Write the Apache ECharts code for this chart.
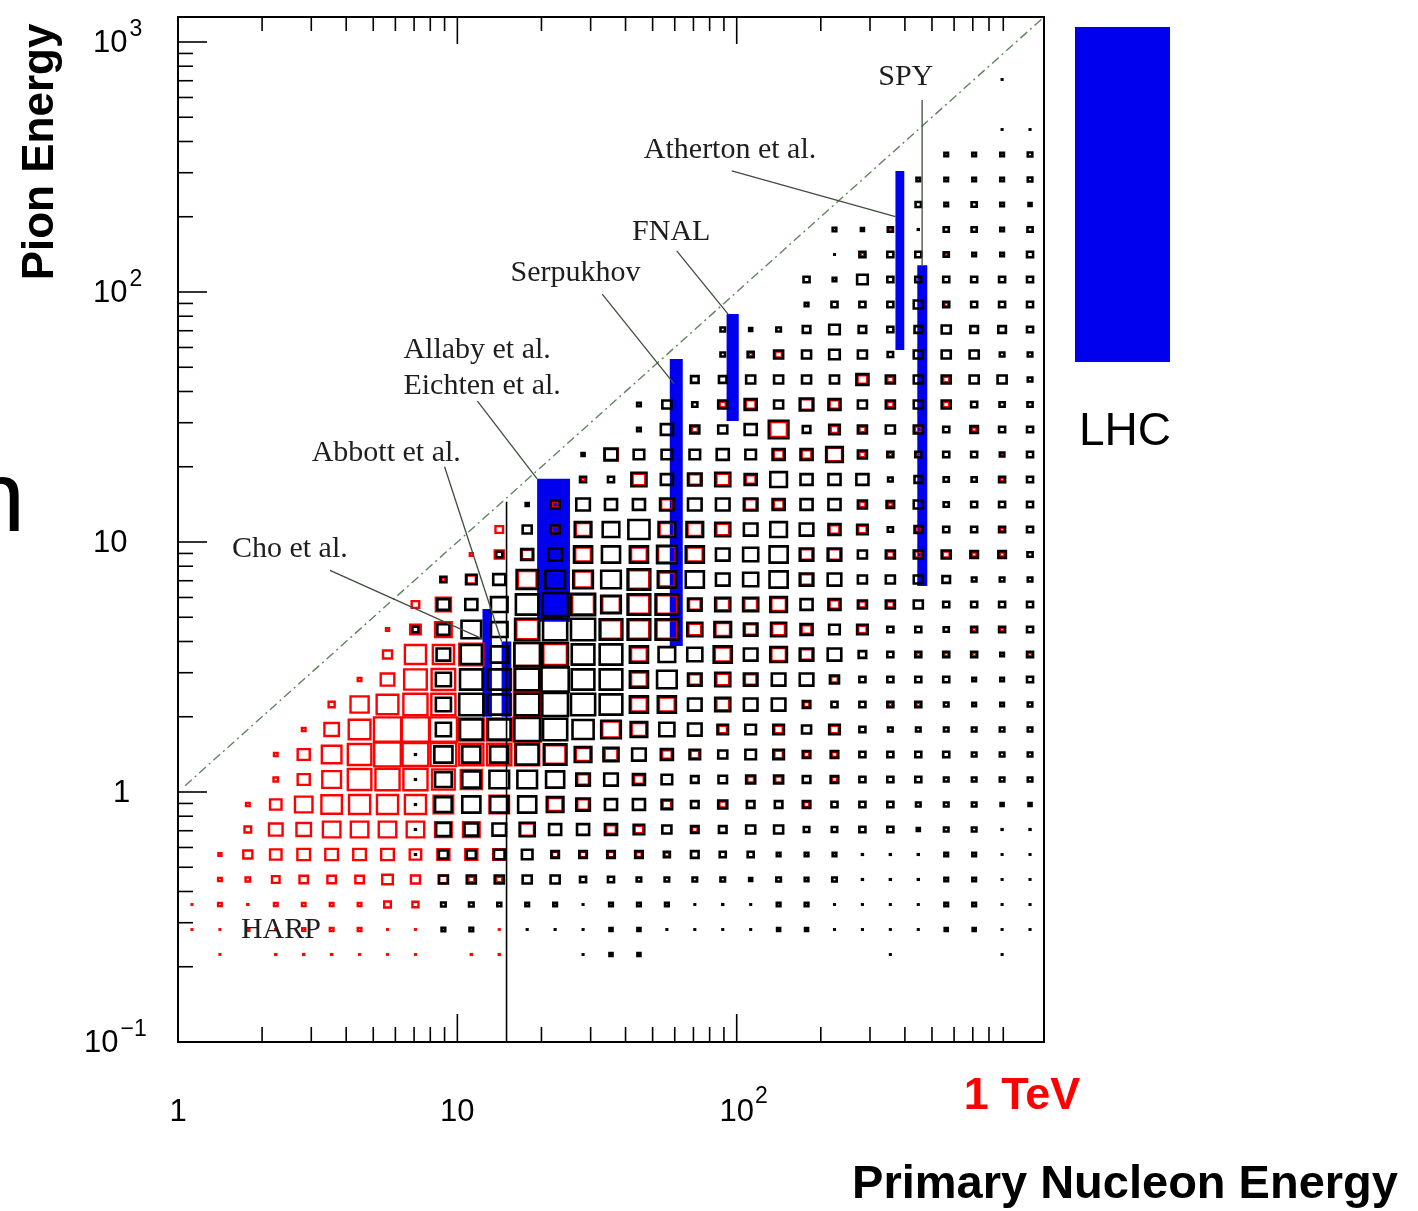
<!DOCTYPE html>
<html>
<head>
<meta charset="utf-8">
<script src="https://cdn.jsdelivr.net/npm/echarts/dist/echarts.min.js"></script>
<style>
  html, body { margin: 0; padding: 0; background: #ffffff; }
  #chart { width: 1418px; height: 1211px; }
</style>
</head>
<body>
<div id="chart"></div>
<script>
// ---- histogram binning (0.1 decade bins on both log axes) ----
const BIN_LOG = 0.1;
const X_LOG0 = 0;    // first x bin starts at 1 GeV
const Y_LOG0 = -1;   // first y bin starts at 0.1 GeV
const ROW_TOP = 38;  // bin row of the first line in each matrix (rows go downwards)

// Box size per bin (percent of bin), black histogram, columns = primary energy bins
const blackBoxSize = [
  [0,0,0,0,0,0,0,0,0,0, 0,0,0,0,0,0,0,0,0,0, 0,0,0,0,0,0,0,0,0,7, 0],
  [0,0,0,0,0,0,0,0,0,0, 0,0,0,0,0,0,0,0,0,0, 0,0,0,0,0,0,0,0,0,0, 0],
  [0,0,0,0,0,0,0,0,0,0, 0,0,0,0,0,0,0,0,0,0, 0,0,0,0,0,0,0,0,0,7, 7],
  [0,0,0,0,0,0,0,0,0,0, 0,0,0,0,0,0,0,0,0,0, 0,0,0,0,0,0,0,12,12,12, 15],
  [0,0,0,0,0,0,0,0,0,0, 0,0,0,0,0,0,0,0,0,0, 0,0,0,0,0,0,12,12,12,12, 15],
  [0,0,0,0,0,0,0,0,0,0, 0,0,0,0,0,0,0,0,0,0, 0,0,0,0,0,0,18,12,17,12, 10],
  [0,0,0,0,0,0,0,0,0,0, 0,0,0,0,0,0,0,0,0,0, 0,0,0,12,10,17,8,17,17,12, 17],
  [0,0,0,0,0,0,0,0,0,0, 0,0,0,0,0,0,0,0,0,0, 0,0,0,7,20,20,20,17,12,12, 20],
  [0,0,0,0,0,0,0,0,0,0, 0,0,0,0,0,0,0,0,0,0, 0,0,20,12,35,20,20,20,20,20, 20],
  [0,0,0,0,0,0,0,0,0,0, 0,0,0,0,0,0,0,0,0,0, 0,0,12,20,20,20,30,20,20,20, 20],
  [0,0,0,0,0,0,0,0,0,0, 0,0,0,0,0,0,0,0,0,15, 10,15,25,35,25,20,25,30,25,25, 20],
  [0,0,0,0,0,0,0,0,0,0, 0,0,0,0,0,0,0,0,0,15, 20,30,30,35,30,18,30,30,30,15, 15],
  [0,0,0,0,0,0,0,0,0,0, 0,0,0,0,0,0,0,0,25,25, 30,30,30,30,40,30,30,30,30,30, 15],
  [0,0,0,0,0,0,0,0,0,0, 0,0,0,0,0,0,12,30,17,30, 40,30,45,40,30,30,30,30,20,17, 17],
  [0,0,0,0,0,0,0,0,0,0, 0,0,0,0,0,0,12,40,30,30, 40,65,25,35,30,30,30,20,25,20, 20],
  [0,0,0,0,0,0,0,0,0,0, 0,0,0,0,10,42,35,35,35,40, 35,40,40,55,30,20,20,20,20,15, 20],
  [0,0,0,0,0,0,0,0,0,0, 0,0,0,0,20,20,50,40,45,50, 40,55,40,40,40,15,25,17,17,20, 20],
  [0,0,0,0,0,0,0,0,0,0, 0,0,10,30,45,40,40,45,45,45, 45,40,40,40,30,25,30,17,20,20, 20],
  [0,0,0,0,0,0,0,0,0,0, 0,0,30,30,55,55,70,55,55,50, 45,55,45,40,35,17,25,20,20,20, 20],
  [0,0,0,0,0,0,0,0,0,0, 0,20,40,45,60,60,60,65,60,45, 50,60,45,45,30,30,30,30,25,25, 17],
  [0,0,0,0,0,0,0,0,0,20, 35,40,70,65,65,65,75,60,60,45, 50,60,45,45,30,30,30,25,15,15, 15],
  [0,0,0,0,0,0,0,0,0,40, 40,55,75,85,80,65,75,75,45,50, 50,55,40,40,30,30,30,20,20,20, 20],
  [0,0,0,0,0,0,0,0,20,40, 65,55,80,80,80,75,75,75,50,55, 45,50,40,35,35,20,20,17,20,20, 20],
  [0,0,0,0,0,0,0,0,0,45, 70,60,85,85,75,75,60,55,50,60, 45,55,45,45,25,20,20,20,20,12, 20],
  [0,0,0,0,0,0,0,0,0,50, 75,75,80,90,75,75,60,65,45,50, 45,45,45,30,20,20,20,20,12,12, 20],
  [0,0,0,0,0,0,0,0,0,50, 80,75,80,85,80,75,60,60,45,50, 45,45,25,20,20,20,20,15,12,12, 15],
  [0,0,0,0,0,0,0,0,0,50, 75,75,85,80,70,65,55,50,45,35, 35,35,30,35,20,15,15,15,15,15, 15],
  [0,0,0,0,0,0,0,0,8,60, 60,60,75,75,55,50,45,40,35,30, 35,35,25,25,20,20,20,20,15,15, 15],
  [0,0,0,0,0,0,0,0,8,55, 60,65,65,60,45,45,40,35,25,28, 30,30,25,25,20,20,20,15,15,15, 15],
  [0,0,0,0,0,0,0,0,8,55, 60,60,60,55,45,40,40,35,25,30, 25,25,25,20,20,20,15,15,15,10, 10],
  [0,0,0,0,0,0,0,0,8,48, 45,45,50,40,40,40,35,30,25,25, 30,30,18,18,20,20,10,15,15,8, 8],
  [0,0,0,0,0,0,0,0,8,30, 30,35,35,25,25,25,25,20,25,20, 20,12,12,12,8,8,8,12,12,7, 7],
  [0,0,0,0,0,0,0,0,0,30, 30,30,30,30,20,20,15,15,15,15, 10,15,12,15,8,8,8,12,12,7, 7],
  [0,0,0,0,0,0,0,0,0,15, 15,13,12,12,7,12,12,12,7,8, 7,12,12,7,7,7,7,12,12,7, 7],
  [0,0,0,0,0,0,0,0,0,12, 12,0,7,7,7,10,10,7,7,7, 7,10,10,7,7,7,7,10,10,7, 7],
  [0,0,0,0,0,0,0,0,0,0, 0,0,0,0,7,10,10,0,0,0, 0,0,0,0,0,7,0,0,0,7, 0]
];

// Box size per bin (percent of bin), red histogram
const redBoxSize = [
  [0,0,0,0,0,0,0,0,0,0, 0,0,0,0,0,0,0,0,0,0, 0,0,0,0,0,0,0,0,0,0, 0],
  [0,0,0,0,0,0,0,0,0,0, 0,0,0,0,0,0,0,0,0,0, 0,0,0,0,0,0,0,0,0,0, 0],
  [0,0,0,0,0,0,0,0,0,0, 0,0,0,0,0,0,0,0,0,0, 0,0,0,0,0,0,0,0,0,0, 0],
  [0,0,0,0,0,0,0,0,0,0, 0,0,0,0,0,0,0,0,0,0, 0,0,0,0,0,0,0,0,0,0, 0],
  [0,0,0,0,0,0,0,0,0,0, 0,0,0,0,0,0,0,0,0,0, 0,0,0,0,0,0,0,0,0,0, 0],
  [0,0,0,0,0,0,0,0,0,0, 0,0,0,0,0,0,0,0,0,0, 0,0,0,0,0,0,0,0,0,0, 0],
  [0,0,0,0,0,0,0,0,0,0, 0,0,0,0,0,0,0,0,0,0, 0,0,0,0,0,10,0,0,0,0, 0],
  [0,0,0,0,0,0,0,0,0,0, 0,0,0,0,0,0,0,0,0,0, 0,0,0,0,12,0,0,10,0,0, 0],
  [0,0,0,0,0,0,0,0,0,0, 0,0,0,0,0,0,0,0,0,0, 0,0,0,0,0,0,0,0,0,0, 0],
  [0,0,0,0,0,0,0,0,0,0, 0,0,0,0,0,0,0,0,0,0, 0,0,0,0,0,0,0,12,0,0, 0],
  [0,0,0,0,0,0,0,0,0,0, 0,0,0,0,0,0,0,0,0,0, 0,0,0,0,0,0,0,0,0,0, 0],
  [0,0,0,0,0,0,0,0,0,0, 0,0,0,0,0,0,0,0,0,0, 12,22,0,0,0,0,0,0,0,0, 0],
  [0,0,0,0,0,0,0,0,0,0, 0,0,0,0,0,0,0,0,0,0, 0,0,0,0,32,20,0,20,0,0, 0],
  [0,0,0,0,0,0,0,0,0,0, 0,0,0,0,0,0,0,0,0,20, 32,0,38,32,0,20,0,20,0,0, 0],
  [0,0,0,0,0,0,0,0,0,0, 0,0,0,0,0,0,0,0,20,0, 0,55,0,25,20,0,22,0,15,0, 0],
  [0,0,0,0,0,0,0,0,0,0, 0,0,0,0,0,45,0,0,0,0, 0,32,32,50,20,12,12,0,0,8, 0],
  [0,0,0,0,0,0,0,0,0,0, 0,0,0,0,12,0,42,0,38,42, 32,0,0,0,0,0,0,0,0,12, 0],
  [0,0,0,0,0,0,0,0,0,0, 0,0,0,22,0,0,0,38,0,0, 38,32,0,0,20,15,0,0,0,0, 0],
  [0,0,0,0,0,0,0,0,0,0, 0,25,0,25,48,0,0,48,48,42, 0,0,0,32,28,0,18,0,0,12, 0],
  [0,0,0,0,0,0,0,0,0,0, 10,30,35,0,52,0,52,58,52,0, 0,0,38,38,0,22,22,22,15,15, 0],
  [0,0,0,0,0,0,0,0,0,12, 30,0,62,0,58,0,68,52,0,0, 0,0,38,0,0,0,0,0,0,0, 0],
  [0,0,0,0,0,0,0,0,25,50, 0,0,0,0,72,58,68,68,38,42, 42,48,0,32,22,22,0,0,0,0, 0],
  [0,0,0,0,0,0,0,10,35,55, 0,0,72,0,0,68,68,68,42,48, 38,42,32,0,28,0,0,0,12,12, 0],
  [0,0,0,0,0,0,0,30,70,70, 80,0,85,78,0,0,52,0,0,52, 0,48,38,0,0,0,12,12,12,0, 12],
  [0,0,0,0,0,0,12,45,75,78, 0,0,88,0,0,0,52,0,38,42, 38,0,0,22,0,0,0,0,0,0, 0],
  [0,0,0,0,0,20,60,72,80,80, 0,0,88,0,0,0,52,52,0,42, 0,0,18,0,0,12,12,0,0,0, 0],
  [0,0,0,0,12,48,72,90,90,90, 82,82,90,0,0,58,48,0,0,28, 0,28,0,28,0,0,0,0,0,0, 0],
  [0,0,0,12,40,65,78,88,85,85, 80,80,80,68,48,42,0,32,28,0, 0,28,18,18,0,0,0,0,0,0, 0],
  [0,0,0,15,40,62,78,80,80,75, 70,0,0,0,38,0,32,0,0,0, 22,22,0,18,0,0,0,0,0,0, 0],
  [0,0,12,38,58,68,70,70,70,65, 0,65,0,48,38,0,0,28,0,22, 0,0,18,0,0,0,0,0,0,0, 0],
  [0,0,22,45,48,58,58,58,58,55, 55,0,45,0,0,32,28,0,18,0, 0,0,0,0,0,0,0,0,0,0, 0],
  [0,10,30,38,42,42,42,42,38,40, 40,40,0,20,20,20,18,15,0,0, 0,0,0,0,0,0,0,0,0,0, 0],
  [0,12,15,25,28,28,28,35,30,28, 20,20,0,0,0,0,0,0,0,0, 0,0,0,0,0,0,0,0,0,0, 0],
  [7,12,8,12,12,12,12,22,20,0, 0,0,0,0,0,0,0,0,0,0, 0,0,0,0,0,0,0,0,0,0, 0],
  [7,7,10,8,10,12,12,7,7,0, 0,7,0,0,0,0,0,0,0,0, 0,0,0,0,0,0,0,0,0,0, 0],
  [0,7,0,8,8,8,7,7,7,0, 8,8,0,0,0,0,0,0,0,0, 0,0,0,0,0,0,0,0,0,0, 0]
];

// Measured regions of the experiments (primary energy range, pion energy range), GeV
const expNames    = ['Cho et al.', 'Abbott et al.', 'Allaby et al. / Eichten et al.', 'Serpukhov', 'FNAL', 'Atherton et al.', 'SPY'];
const expBeamMin  = [12.3, 14.4, 19.3, 57.6, 92, 370, 443];
const expBeamMax  = [13.3, 15.6, 25.3, 64.1, 101.7, 398, 481];
const expPionMin  = [2.0, 2.0, 4.8, 3.84, 30.5, 58.6, 6.67];
const expPionMax  = [5.4, 4.0, 17.9, 54, 81.7, 305, 128];

// Annotation text anchors (left edge, vertical centre) in data units
const labelTexts = ['SPY', 'Atherton et al.', 'FNAL', 'Serpukhov', 'Allaby et al.', 'Eichten et al.', 'Abbott et al.', 'Cho et al.', 'HARP'];
const labelAtX   = [321, 46.5, 42.2, 15.5, 6.41, 6.41, 3.01, 1.56, 1.68];
const labelAtY   = [724, 370, 174, 119, 58.6, 42.1, 22.7, 9.38, 0.28];

// Leader lines from labels to the experiment regions
const leaderFrom = [[461, 586], [96, 305], [61, 146], [33, 98], [11.8, 36.6], [9.0, 20], [3.5, 7.7]];
const leaderTo   = [[461, 128], [370, 200], [93.6, 81], [59.6, 43], [19.3, 17.9], [14.4, 4.0], [12.3, 4.1]];

// Primary energy boundary line (black vertical)
const beamCut = 15, beamCutTop = 14.5;

// Axis ticks and labels
const xMinorTicks = [2,3,4,5,6,7,8,9, 20,30,40,50,60,70,80,90, 200,300,400,500,600,700,800,900];
const xMajorTicks = [10, 100];
const yMinorTicks = [0.2,0.3,0.4,0.5,0.6,0.7,0.8,0.9, 2,3,4,5,6,7,8,9, 20,30,40,50,60,70,80,90, 200,300,400,500,600,700,800,900];
const yMajorTicks = [1, 10, 100, 1000];
const xTickLabels = [1, 10, 100];
const yTickLabels = [0.1, 1, 10, 100, 1000];

const X_MIN = 1, X_MAX = Math.pow(10, 3.1);
const Y_MIN = 0.1, Y_MAX = Math.pow(10, 3.1);
const BLUE = '#0000ee';
const BOX_SCALE = 1.08;   // box side relative to its bin at 100 %
const SERIF = '"Liberation Serif", "Times New Roman", serif';
const SANS = '"Liberation Sans", Arial, Helvetica, sans-serif';

function cells(matrix) {
  const out = [];
  matrix.forEach((row, k) => {
    const j = ROW_TOP - k;
    row.forEach((s, i) => {
      if (s > 0) {
        out.push([Math.pow(10, X_LOG0 + (i + 0.5) * BIN_LOG), Math.pow(10, Y_LOG0 + (j + 0.5) * BIN_LOG), s, i, j]);
      }
    });
  });
  return out;
}

function boxRenderer(color, lw) {
  return function (params, api) {
    const i = api.value(3), j = api.value(4), s = BOX_SCALE * api.value(2) / 100;
    const a = api.coord([Math.pow(10, X_LOG0 + i * BIN_LOG), Math.pow(10, Y_LOG0 + j * BIN_LOG)]);
    const b = api.coord([Math.pow(10, X_LOG0 + (i + 1) * BIN_LOG), Math.pow(10, Y_LOG0 + (j + 1) * BIN_LOG)]);
    const c = api.coord([api.value(0), api.value(1)]);
    const w = s * (b[0] - a[0]), h = s * (a[1] - b[1]);
    if (w < 3) {
      return { type: 'rect', shape: { x: c[0] - (w + 1) / 2, y: c[1] - (h + 1) / 2, width: w + 1, height: h + 1 },
               style: { fill: color } };
    }
    return { type: 'rect', shape: { x: c[0] - w / 2, y: c[1] - h / 2, width: w, height: h },
             style: { fill: 'none', stroke: color, lineWidth: lw } };
  };
}

function tickData(list, major, onX) {
  return list.map(v => onX ? [v, Y_MIN, major] : [X_MIN, v, major]);
}

function tickRenderer(onX) {
  return function (params, api) {
    const cs = params.coordSys;
    const major = api.value(2) === 1;
    const p = api.coord([api.value(0), api.value(1)]);
    const st = { stroke: '#000', lineWidth: 1.6 };
    if (onX) {
      const len = major ? 28 : 15;
      return { type: 'group', children: [
        { type: 'line', shape: { x1: p[0], y1: cs.y + cs.height, x2: p[0], y2: cs.y + cs.height - len }, style: st },
        { type: 'line', shape: { x1: p[0], y1: cs.y, x2: p[0], y2: cs.y + (major ? 27 : 14) }, style: st }
      ] };
    }
    const len = major ? 29 : 15;
    return { type: 'line', shape: { x1: cs.x, y1: p[1], x2: cs.x + len, y2: p[1] }, style: st };
  };
}

// label text pieces for a power of ten
function powerParts(v) {
  const e = Math.round(Math.log10(v));
  if (e === 0) return { e, base: '1', sup: '' };
  if (e === 1) return { e, base: '10', sup: '' };
  return { e, base: '10', sup: e < 0 ? '\u2212' + (-e) : String(e) };
}

const BASE_FONT = '31px ' + SANS;
const SUP_FONT = '23px ' + SANS;
const measureCtx = document.createElement('canvas').getContext('2d');
function textWidth(t, font) { measureCtx.font = font; return measureCtx.measureText(t).width; }

function xLabelRenderer(params, api) {
  const p = api.coord([api.value(0), Y_MIN]);
  const parts = powerParts(api.value(0));
  const y = p[1] + 70;
  const bw = textWidth(parts.base, BASE_FONT);
  const children = [{ type: 'text', x: p[0], y: y, style: { text: parts.base, font: BASE_FONT, fill: '#000', align: 'center', verticalAlign: 'middle' } }];
  if (parts.sup) {
    children.push({ type: 'text', x: p[0] + bw / 2 + 1, y: y - 15, style: { text: parts.sup, font: SUP_FONT, fill: '#000', align: 'left', verticalAlign: 'middle' } });
  }
  return { type: 'group', children };
}

// left edge of the y labels, measured from the frame
const yLabelOffset = { '-1': 94, '0': 65, '1': 85, '2': 85, '3': 85 };
function yLabelRenderer(params, api) {
  const p = api.coord([X_MIN, api.value(1)]);
  const parts = powerParts(api.value(1));
  const x = p[0] - yLabelOffset[String(parts.e)];
  const bw = textWidth(parts.base, BASE_FONT);
  const y = p[1] + 1;
  const children = [{ type: 'text', x: x, y: y, style: { text: parts.base, font: BASE_FONT, fill: '#000', align: 'left', verticalAlign: 'middle' } }];
  if (parts.sup) {
    children.push({ type: 'text', x: x + bw + 2, y: y - 13, style: { text: parts.sup, font: SUP_FONT, fill: '#000', align: 'left', verticalAlign: 'middle' } });
  }
  return { type: 'group', children };
}

const chart = echarts.init(document.getElementById('chart'), null, { renderer: 'canvas' });

const option = {
  backgroundColor: '#ffffff',
  animation: false,
  grid: { left: 178, top: 17, width: 866, height: 1025, show: true, borderColor: '#000', borderWidth: 2, backgroundColor: 'transparent' },
  xAxis: {
    type: 'log', logBase: 10, min: X_MIN, max: X_MAX,
    axisLine: { show: false }, axisTick: { show: false }, axisLabel: { show: false }, splitLine: { show: false }
  },
  yAxis: {
    type: 'log', logBase: 10, min: Y_MIN, max: Y_MAX,
    axisLine: { show: false }, axisTick: { show: false }, axisLabel: { show: false }, splitLine: { show: false }
  },
  series: [
    {
      name: 'experiments', type: 'custom', clip: false, z: 2, silent: true,
      data: expBeamMin.map((v, k) => [v, expBeamMax[k], expPionMin[k], expPionMax[k]]),
      encode: { x: [0, 1], y: [2, 3] },
      renderItem(params, api) {
        const a = api.coord([api.value(0), api.value(2)]);
        const b = api.coord([api.value(1), api.value(3)]);
        return { type: 'rect', shape: { x: a[0], y: b[1], width: b[0] - a[0], height: a[1] - b[1] }, style: { fill: BLUE } };
      }
    },
    {
      name: 'red', type: 'custom', clip: false, z: 3, silent: true,
      data: cells(redBoxSize), encode: { x: 0, y: 1 },
      renderItem: boxRenderer('#ff0000', 2.4)
    },
    {
      name: 'black', type: 'custom', clip: false, z: 4, silent: true,
      data: cells(blackBoxSize), encode: { x: 0, y: 1 },
      renderItem: boxRenderer('#000000', 2.6)
    },
    {
      name: 'kinematic limit', type: 'line', z: 5, silent: true, symbol: 'none',
      data: [[1.06, 1.06], [X_MAX, Y_MAX]],
      lineStyle: { color: '#5f855f', width: 1.4, type: [9, 4, 2, 4] }
    },
    {
      name: 'beam cut', type: 'line', z: 5, silent: true, symbol: 'none',
      data: [[beamCut, Y_MIN], [beamCut, beamCutTop]],
      lineStyle: { color: '#000', width: 1.6 }
    },
    {
      name: 'leaders', type: 'custom', clip: false, z: 6, silent: true,
      data: leaderFrom.map((f, k) => [f[0], f[1], leaderTo[k][0], leaderTo[k][1]]),
      encode: { x: [0, 2], y: [1, 3] },
      renderItem(params, api) {
        const a = api.coord([api.value(0), api.value(1)]);
        const b = api.coord([api.value(2), api.value(3)]);
        return { type: 'line', shape: { x1: a[0], y1: a[1], x2: b[0], y2: b[1] }, style: { stroke: '#3f4d3f', lineWidth: 1.3 } };
      }
    },
    {
      name: 'labels', type: 'custom', clip: false, z: 7, silent: true,
      data: labelAtX.map((x, k) => [x, labelAtY[k]]),
      encode: { x: 0, y: 1 },
      renderItem(params, api) {
        const p = api.coord([api.value(0), api.value(1)]);
        return { type: 'text', x: p[0], y: p[1],
                 style: { text: labelTexts[params.dataIndex], font: '30px ' + SERIF, fill: '#1e1e1e', align: 'left', verticalAlign: 'middle' } };
      }
    },
    { name: 'x minor ticks', type: 'custom', clip: false, z: 8, silent: true, data: tickData(xMinorTicks, 0, true), encode: { x: 0, y: 1 }, renderItem: tickRenderer(true) },
    { name: 'x major ticks', type: 'custom', clip: false, z: 8, silent: true, data: tickData(xMajorTicks, 1, true), encode: { x: 0, y: 1 }, renderItem: tickRenderer(true) },
    { name: 'y minor ticks', type: 'custom', clip: false, z: 8, silent: true, data: tickData(yMinorTicks, 0, false), encode: { x: 0, y: 1 }, renderItem: tickRenderer(false) },
    { name: 'y major ticks', type: 'custom', clip: false, z: 8, silent: true, data: tickData(yMajorTicks, 1, false), encode: { x: 0, y: 1 }, renderItem: tickRenderer(false) },
    { name: 'x labels', type: 'custom', clip: false, z: 8, silent: true, data: xTickLabels.map(v => [v, Y_MIN]), encode: { x: 0, y: 1 }, renderItem: xLabelRenderer },
    { name: 'y labels', type: 'custom', clip: false, z: 8, silent: true, data: yTickLabels.map(v => [X_MIN, v]), encode: { x: 0, y: 1 }, renderItem: yLabelRenderer }
  ],
  graphic: [
    { type: 'text', x: 41, y: 152, rotation: Math.PI / 2,
      style: { text: 'Pion Energy', font: 'bold 44px ' + SANS, fill: '#000', align: 'center', verticalAlign: 'middle' } },
    { type: 'text', x: 1125, y: 1185,
      style: { text: 'Primary Nucleon Energy', font: 'bold 47px ' + SANS, fill: '#000', align: 'center', verticalAlign: 'middle' } },
    { type: 'text', x: 1022, y: 1097,
      style: { text: '1 TeV', font: 'bold 45px ' + SANS, fill: '#ff0000', align: 'center', verticalAlign: 'middle' } },
    { type: 'rect', shape: { x: 1075, y: 27, width: 95, height: 335 }, style: { fill: BLUE } },
    { type: 'text', x: 1125, y: 432,
      style: { text: 'LHC', font: '46px ' + SANS, fill: '#000', align: 'center', verticalAlign: 'middle' } },
    { type: 'text', x: 25, y: 553,
      style: { text: 'n', font: '100px ' + SANS, fill: '#000', align: 'right', verticalAlign: 'bottom' } }
  ]
};

chart.setOption(option);
</script>
</body>
</html>
